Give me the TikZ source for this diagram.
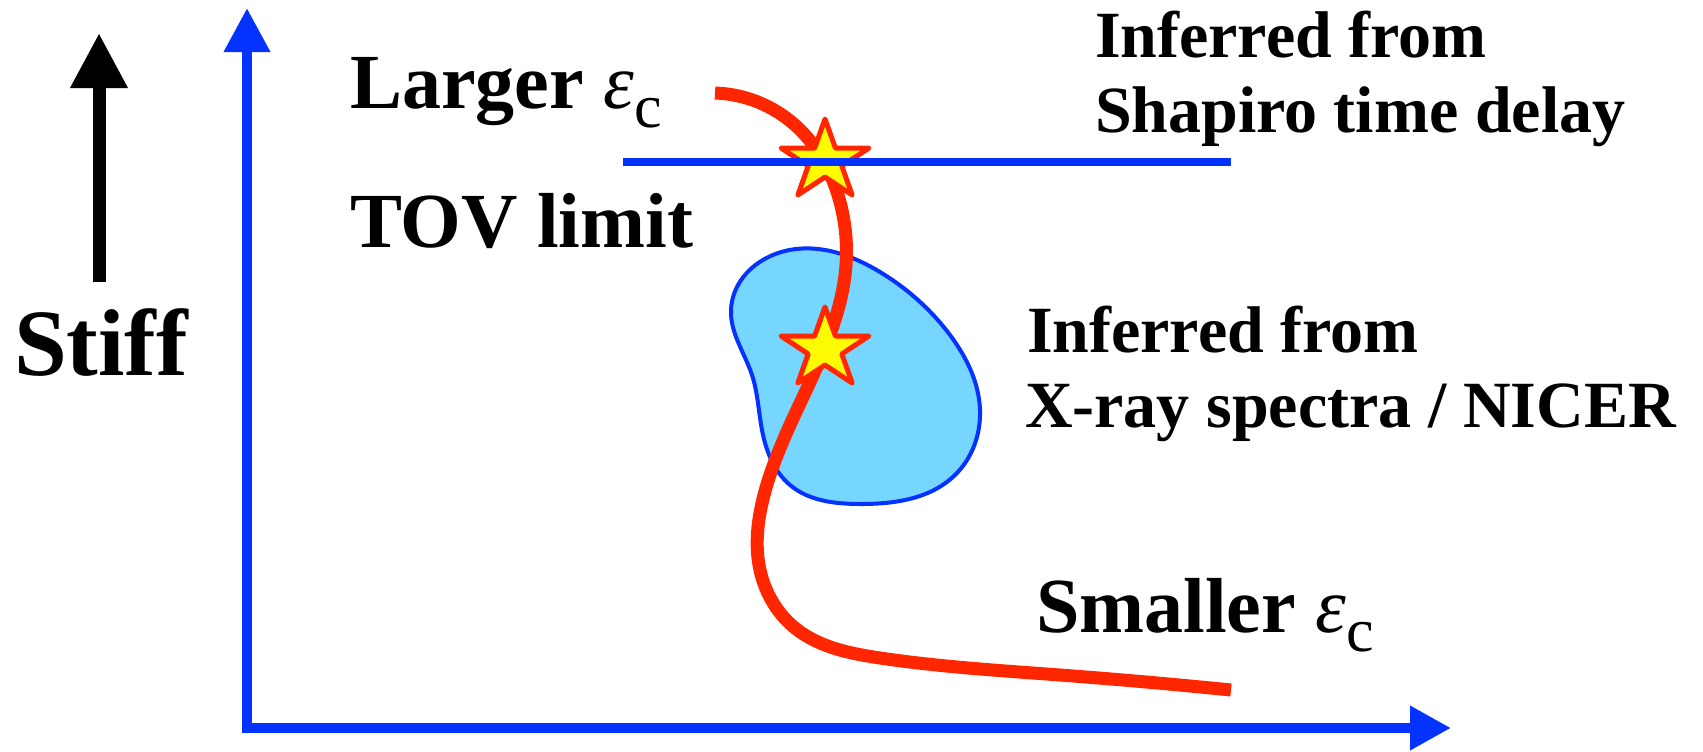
\documentclass[tikz,border=0pt]{standalone}
\usepackage{fontspec}
\setmainfont{Liberation Serif}
\usetikzlibrary{arrows.meta,shapes.geometric,hobby}
\definecolor{axisblue}{RGB}{4,51,255}
\definecolor{curvered}{RGB}{255,38,0}
\definecolor{staryellow}{RGB}{255,251,0}
\definecolor{blobfill}{RGB}{118,214,255}
\newcommand{\myepsc}{{\mdseries\itshape ε}\raisebox{-9.5pt}{\mdseries\upshape\fontsize{31pt}{31pt}\selectfont c}}
\begin{document}
\begin{tikzpicture}[x=0.5pt,y=-0.5pt,
  lbl/.style={anchor=base west, inner sep=0pt, outer sep=0pt, font=\fontsize{#1}{#1}\selectfont\bfseries},
  axisline/.style={draw=axisblue, line width=5pt},
  starnode/.style={star, star points=5, star point ratio=2.618, minimum size=42pt, inner sep=0pt,
    transform shape, xscale=1.1,
    fill=staryellow, draw=curvered, line width=2.5pt, line join=round},
  eoscurve/.style={draw=curvered, line width=6.5pt},
  blobstyle/.style={fill=blobfill, draw=axisblue, line width=2pt}]
\useasboundingbox (0,0) rectangle (1703,751);
% axes
\coordinate (ytip) at (247,8);
\coordinate (origin) at (247,728);
\coordinate (xtip) at (1451,728);
\draw[axisline, line join=miter, {Triangle[length=22pt,width=22pt]}-{Triangle[length=20.5pt,width=21pt]}] (ytip) -- (origin) -- (xtip);
% stiff arrow
\coordinate (sa) at (99,282);
\coordinate (sb) at (99,33);
\draw[line width=6.5pt, -{Triangle[length=27.5pt,width=27pt]}] (sa) -- (sb);
\node[lbl=47.5pt] (stiff) at (14,375) {Stiff};
% blob
\draw[blobstyle] (796,249) to[closed, curve through={(880,272) (950,335) (980,410) (955,475) (860,504) (790,485) (762,430) (752,375) (731,310)}] (796,249);
% red curve
\draw[eoscurve] (715,93) to[curve through={(795,125) (838,195) (846,265) (826,345) (790,425) (764,495) (760,570) (795,628) (880,658) (1060,675)}] (1231,690);
% stars
\node[starnode] (star1) at (825,161) {};
\node[starnode] (star2) at (825,349) {};
% TOV line
\coordinate (tova) at (623,162);
\coordinate (tovb) at (1231,162);
\draw[draw=axisblue, line width=3.6pt] (tova) -- (tovb);
% labels
\node[lbl=39pt] (larger) at (350,108) {Larger \myepsc};
\node[lbl=39pt] (tov) at (350,247) {TOV limit};
\node[lbl=33pt] (inf1) at (1095,57) {Inferred from};
\node[lbl=33pt] (shap) at (1095,132) {Shapiro time delay};
\node[lbl=33pt] (inf2) at (1027,352) {Inferred from};
\node[lbl=33pt] (xray) at (1025,427) {X-ray spectra / NICER};
\node[lbl=39pt] (smaller) at (1036,632) {Smaller \myepsc};
\end{tikzpicture}
\end{document}
